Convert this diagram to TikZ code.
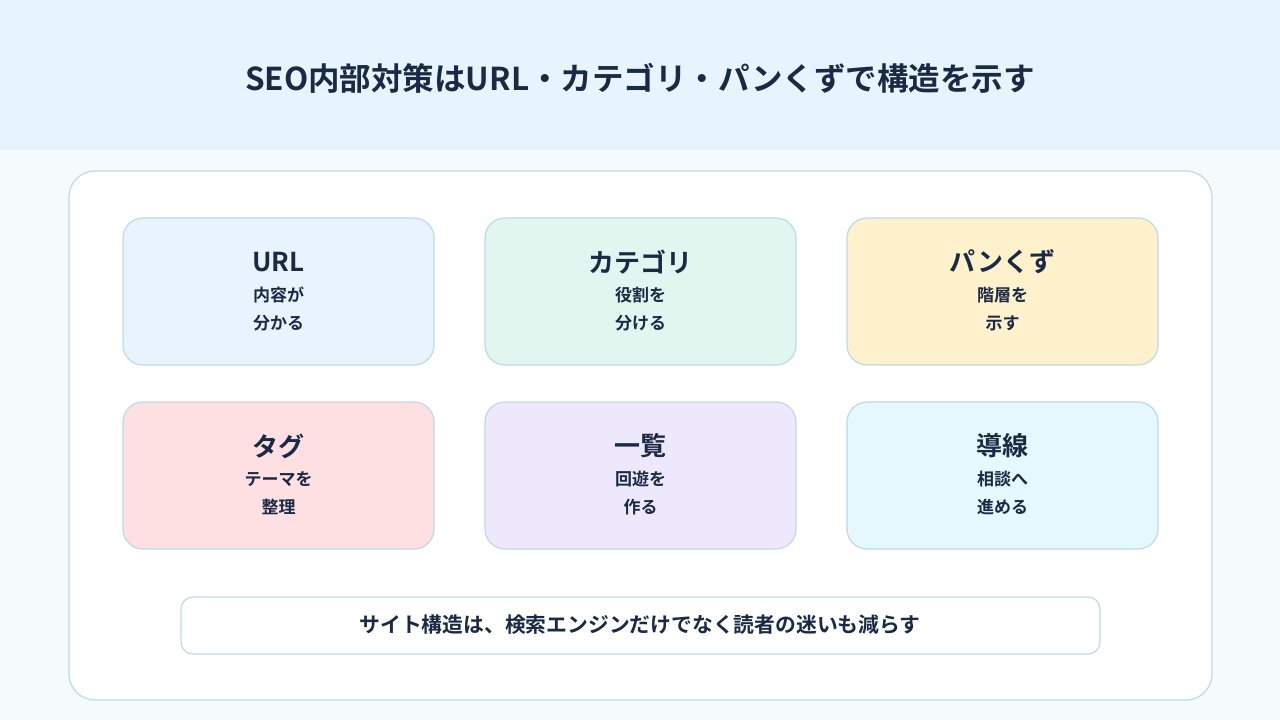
\documentclass[tikz,border=0pt]{standalone}
\usepackage{fontspec}
\setmainfont{Noto Sans CJK JP}[BoldFont={Noto Sans CJK JP Bold}]
\definecolor{ink}{HTML}{1B2A44}
\definecolor{edge}{HTML}{BCD9EA}
\definecolor{band}{HTML}{E8F4FD}
\definecolor{paper}{HTML}{F5FAFD}
\definecolor{cUrl}{HTML}{E8F3FE}
\definecolor{cCat}{HTML}{E0F6EF}
\definecolor{cPan}{HTML}{FEF1CC}
\definecolor{cTag}{HTML}{FEE0E3}
\definecolor{cList}{HTML}{EEE8FD}
\definecolor{cLead}{HTML}{E4F8FD}
\tikzset{
  card/.style={draw=edge, line width=1.2pt, rounded corners=20pt},
  head/.style={text=ink, font=\bfseries\fontsize{26}{30}\selectfont},
  sub/.style={text=ink, font=\bfseries\fontsize{17}{28}\selectfont, align=center},
}
\begin{document}
\begin{tikzpicture}[x=1pt, y=-1pt]
	% background
	\fill[paper] (0,0) rectangle (1280,720);
	\fill[band] (0,0) rectangle (1280,150);
	\node[text=ink, font=\bfseries\fontsize{31.5}{36}\selectfont] (title) at (640,78) {SEO内部対策はURL・カテゴリ・パンくずで構造を示す};
	% main card
	\draw[card, fill=white, rounded corners=26pt] (69,171) rectangle (1212,700);
	% six boxes
	\foreach \px/\py/\col/\nm/\hd/\la/\lb in {
		123/218/cUrl/url/URL/内容が/分かる,
		485/218/cCat/cat/カテゴリ/役割を/分ける,
		847/218/cPan/pan/パンくず/階層を/示す,
		123/402/cTag/tag/タグ/テーマを/整理,
		485/402/cList/list/一覧/回遊を/作る,
		847/402/cLead/lead/導線/相談へ/進める}{
		\draw[card, fill=\col] (\px,\py) rectangle ++(311,147);
		\node[head] (\nm-h) at (\px+155.5,\py+44) {\hd};
		\node[sub] (\nm-s) at (\px+155.5,\py+91) {\la\\\lb};
	}
	% bottom note
	\draw[draw=edge, line width=1.2pt, fill=white, rounded corners=12pt] (181,597) rectangle (1100,654);
	\node[text=ink, font=\bfseries\fontsize{20.8}{24}\selectfont] (note) at (640,625) {サイト構造は、検索エンジンだけでなく読者の迷いも減らす};
\end{tikzpicture}
\end{document}
